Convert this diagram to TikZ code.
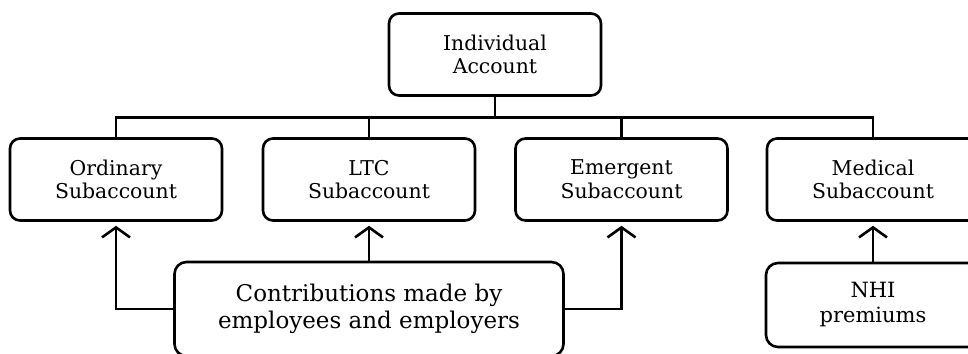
\documentclass[tikz,border=0pt]{standalone}
\usepackage{fontspec}
\setmainfont{DejaVu Serif}
\usetikzlibrary{arrows.meta}

\begin{document}
\begin{tikzpicture}[x=0.5pt,y=-0.5pt, line width=1.3pt,
    acctbox/.style={draw, rounded corners=5pt, align=center,
        minimum width=106pt, minimum height=41pt,
        font=\fontsize{10.2}{11.8}\selectfont},
    srcbox/.style={draw, rounded corners=6pt, align=center,
        font=\fontsize{11.5}{13.5}\selectfont},
    feed/.style={-{Straight Barb[length=5pt,width=14pt]}, shorten >=2pt}]

    % Fix the size of the page
    \useasboundingbox (0,0) rectangle (968,353);

    % The account on top
    \node[acctbox] (acct) at (495,54.5) {Individual\\Account};

    % The four subaccounts below it
    \node[acctbox] (ord) at (116,179.5) {Ordinary\\Subaccount};
    \node[acctbox] (ltc) at (369,179.5) {LTC\\Subaccount};
    \node[acctbox] (emg) at (621.5,179.5) {Emergent\\Subaccount};
    \node[acctbox] (med) at (873,179.5) {Medical\\Subaccount};

    % Where the money comes from
    \node[srcbox, minimum width=194.5pt, minimum height=47pt] (contrib)
        at (369,309) {Contributions made by\\employees and employers};
    \node[srcbox, minimum width=107pt, minimum height=42pt,
        font=\fontsize{10.5}{12.5}\selectfont] (nhi)
        at (873,305) {NHI\\premiums};

    % Tree lines from the account down to the subaccounts
    \coordinate (bus) at (495,117.5);
    \draw (acct) -- (bus);
    \draw (ord.north) -- (ord.north |- bus) -| (med.north);
    \foreach \sub in {ltc,emg} {
        \draw (\sub.north) -- (\sub.north |- bus);
    }

    % Arrows into the subaccounts
    \draw[feed] (contrib.west) -| (ord.south);
    \draw[feed] (contrib.north) -- (ltc.south);
    \draw[feed] (contrib.east) -| (emg.south);
    \draw[feed] (nhi) -- (med);
\end{tikzpicture}
\end{document}
